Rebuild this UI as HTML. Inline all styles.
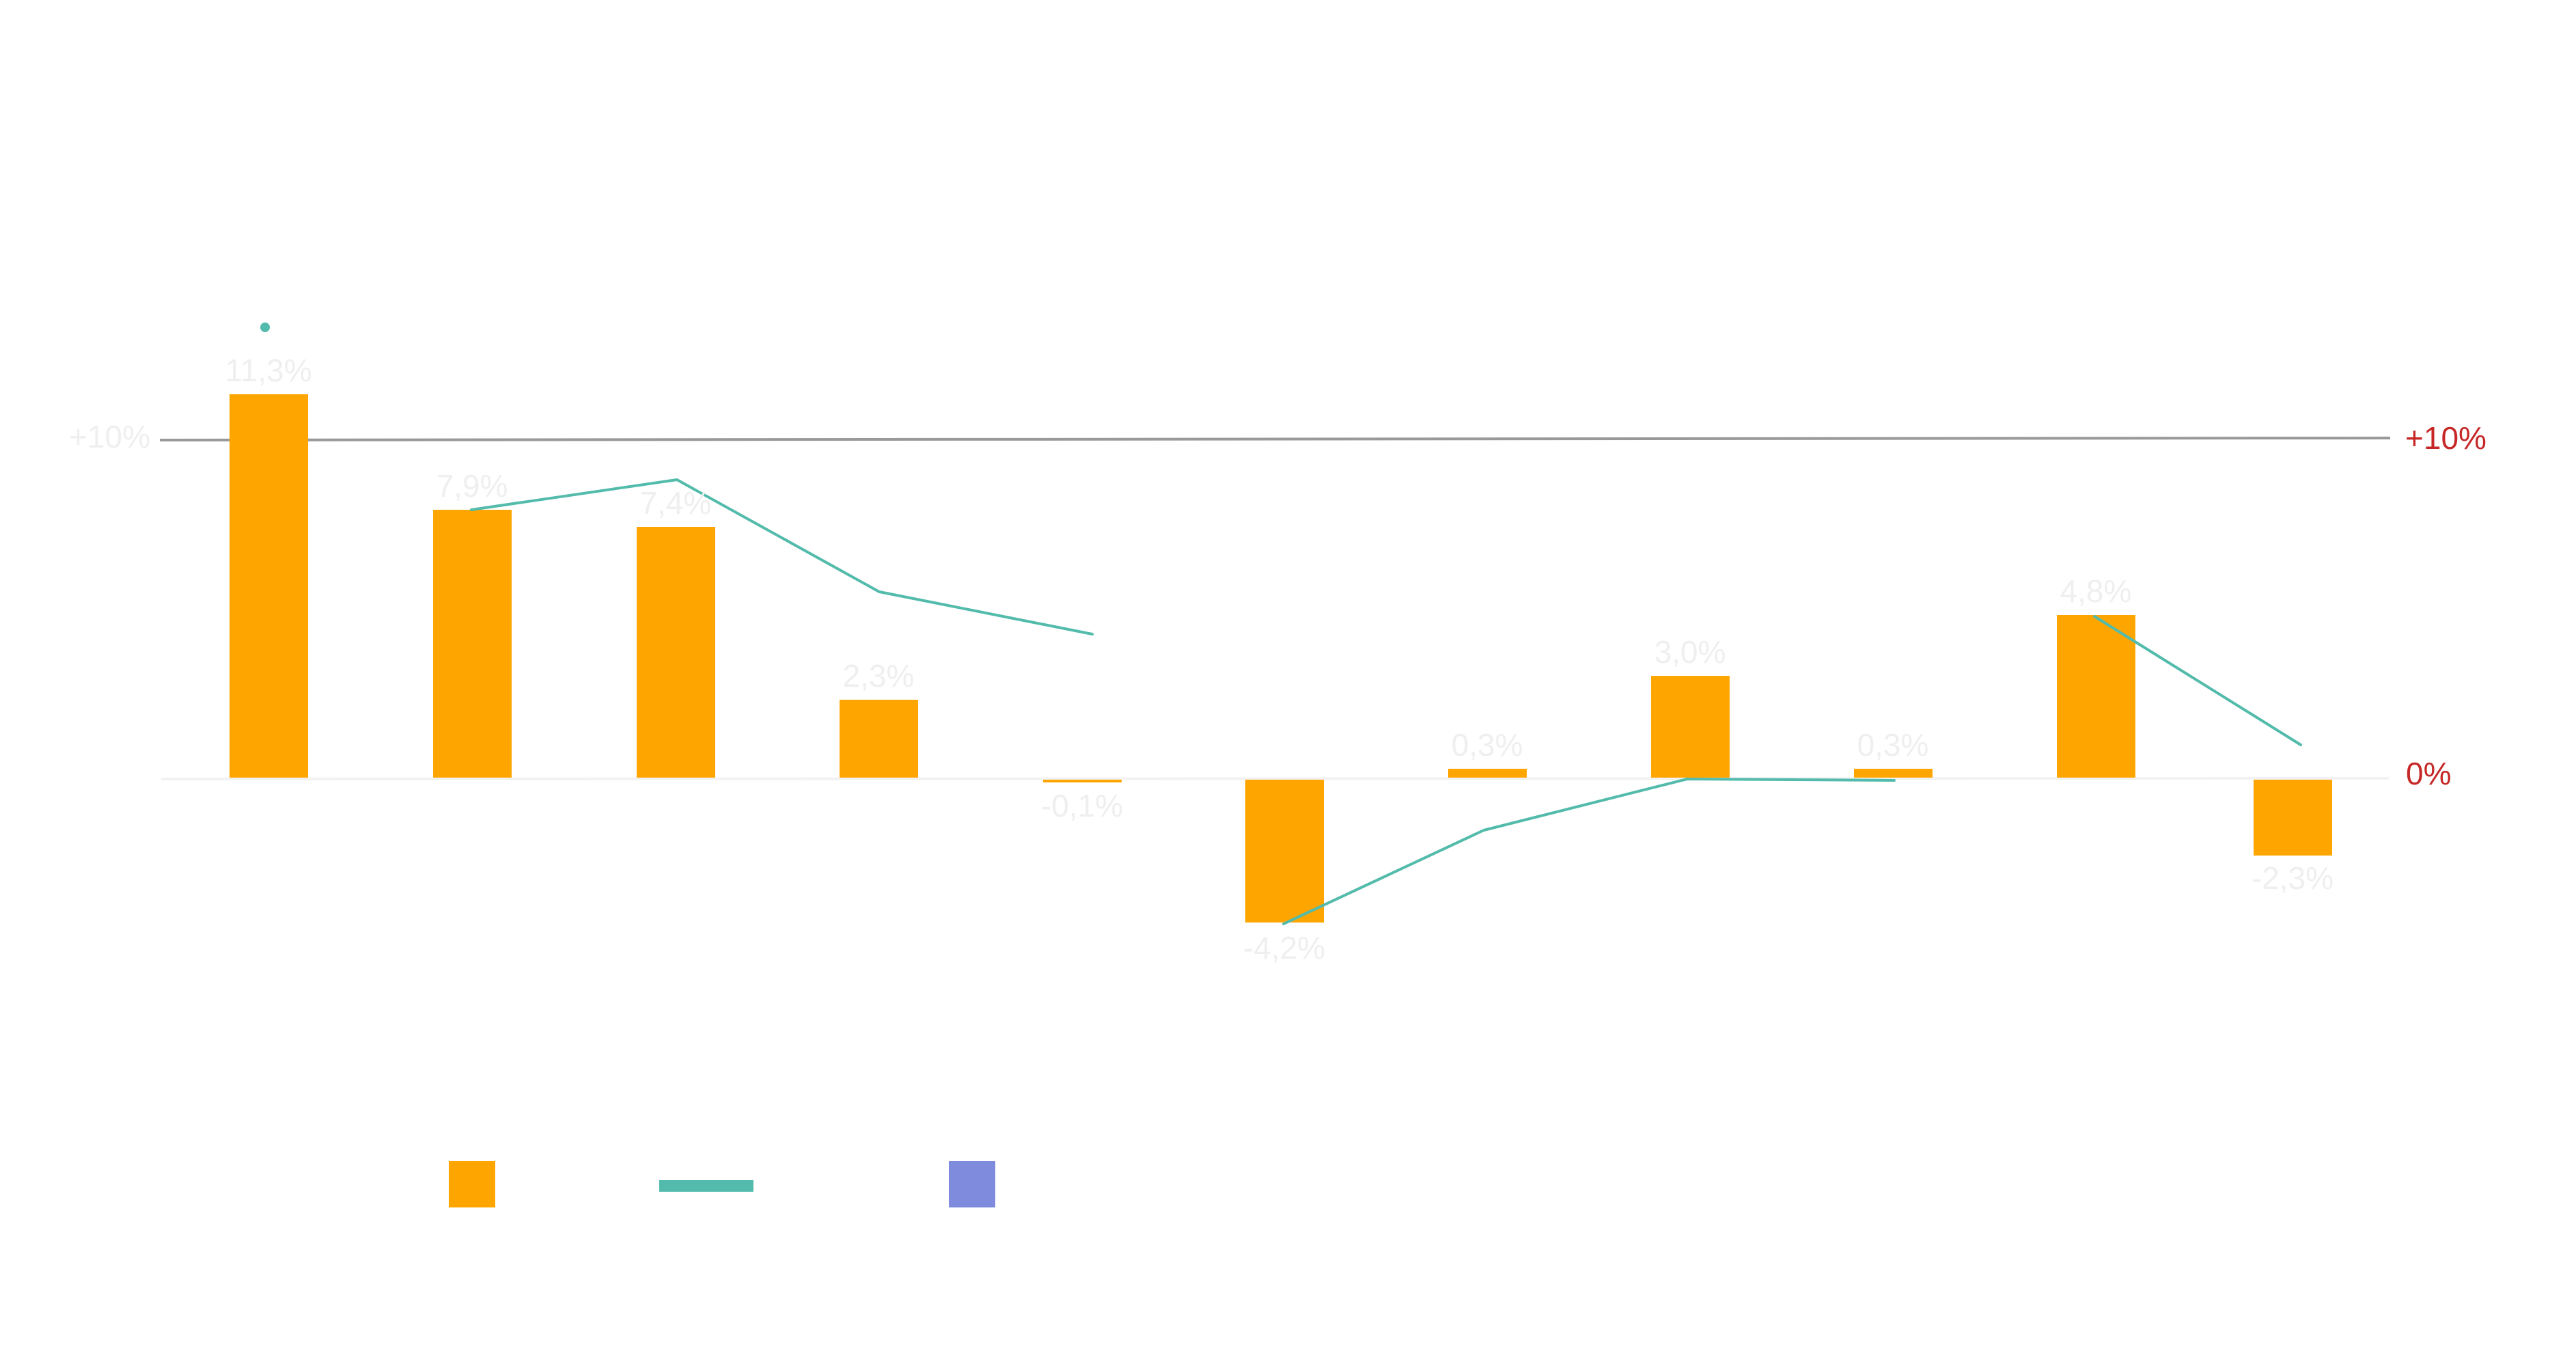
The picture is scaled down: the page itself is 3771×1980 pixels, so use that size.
<!DOCTYPE html>
<html><head><meta charset="utf-8"><style>
html,body{margin:0;padding:0;background:#fff;width:3771px;height:1980px;overflow:hidden}
svg text{font-family:"Liberation Sans",sans-serif;font-size:46px}
</style></head><body>
<svg width="3771" height="1980" viewBox="0 0 3771 1980" xmlns="http://www.w3.org/2000/svg">
<line x1="234" y1="644" x2="3499" y2="641" stroke="#999" stroke-width="4"/>
<line x1="236" y1="1140" x2="3497" y2="1139" stroke="#f2f2f2" stroke-width="4"/>
<g fill="#FFA500">
<rect x="336" y="577" width="115" height="561"/>
<rect x="634" y="746" width="115" height="392"/>
<rect x="932" y="771" width="115" height="367"/>
<rect x="1229" y="1024" width="115" height="114"/>
<rect x="1527" y="1141" width="115" height="4"/>
<rect x="1823" y="1141" width="115" height="209"/>
<rect x="2120" y="1125" width="115" height="13"/>
<rect x="2417" y="989" width="115" height="149"/>
<rect x="2714" y="1125" width="115" height="13"/>
<rect x="3011" y="900" width="115" height="238"/>
<rect x="3299" y="1141" width="115" height="111"/>
</g>
<g fill="none" stroke="#52bbab" stroke-width="4" stroke-linejoin="round" stroke-linecap="round">
<polyline points="690,746 991,702 1287,866 1599,928"/>
<polyline points="1879,1352 2172,1215 2470,1140 2773,1142"/>
<polyline points="3066,902 3368,1090"/>
</g>
<circle cx="388" cy="479" r="7" fill="#52bbab"/>
<g fill="#efefef" text-anchor="middle">
<text x="393" y="558">11,3%</text>
<text x="691" y="727">7,9%</text>
<text x="989" y="752">7,4%</text>
<text x="1286" y="1005">2,3%</text>
<text x="1584" y="1195">-0,1%</text>
<text x="1880" y="1403">-4,2%</text>
<text x="2177" y="1106">0,3%</text>
<text x="2474" y="970">3,0%</text>
<text x="2771" y="1106">0,3%</text>
<text x="3068" y="881">4,8%</text>
<text x="3356" y="1301">-2,3%</text>
</g>
<text x="220" y="655" fill="#efefef" text-anchor="end">+10%</text>
<text x="3521" y="657" fill="#c62828">+10%</text>
<text x="3522" y="1148" fill="#c62828">0%</text>
<rect x="657" y="1699" width="68" height="68" fill="#FFA500"/>
<rect x="965" y="1727" width="138" height="17" fill="#52bbab"/>
<rect x="1389" y="1699" width="68" height="68" fill="#7f8cdd"/>
</svg>
</body></html>
